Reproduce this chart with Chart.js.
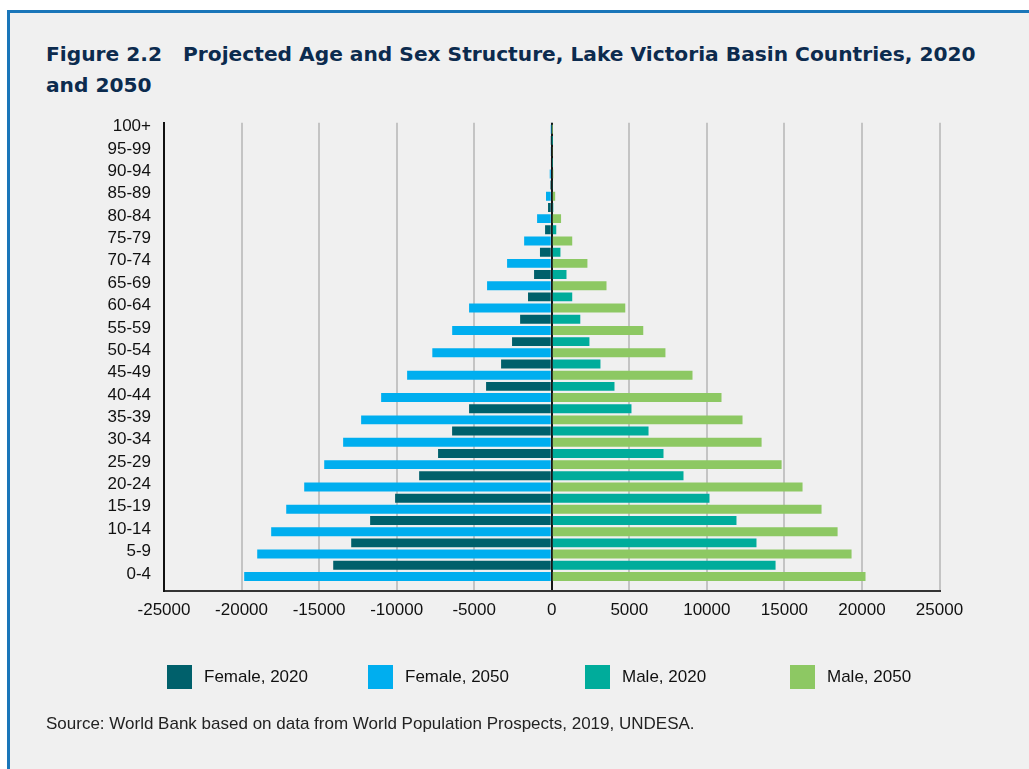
<!DOCTYPE html>
<html>
<head>
<meta charset="utf-8">
<script src="https://cdn.jsdelivr.net/npm/chart.js@4/dist/chart.umd.min.js"></script>
<style>
  html, body { margin: 0; padding: 0; background: #fff; overflow: hidden; }
  .frame { position: absolute; left: 7px; top: 10px; width: 1040px; height: 780px;
           border-top: 3px solid #1a76b9; border-left: 3px solid #1a76b9; background: #f0f0f0; }
  #chart { position: absolute; left: 0; top: 0; }
  #title { position: absolute; left: 46px; top: 39.2px; margin: 0; white-space: pre;
           font: bold 20.2px/30.8px "DejaVu Sans", sans-serif; color: #0c2b4e; }
</style>
</head>
<body>
<div class="frame"></div>
<div id="title"></div>
<canvas id="chart" width="1029" height="769"></canvas>
<script>
// age groups, bottom to top
const ages = ['0-4','5-9','10-14','15-19','20-24','25-29','30-34','35-39','40-44','45-49',
  '50-54','55-59','60-64','65-69','70-74','75-79','80-84','85-89','90-94','95-99','100+'];

// population (thousands), females drawn to the left
const female2020 = [14090,12930,11710,10100,8550,7330,6425,5330,4234,3267,2560,2040,1530,1140,760,430,240,100,60,20,10];
const female2050 = [19830,18990,18090,17120,15960,14670,13450,12290,11000,9325,7700,6420,5330,4170,2880,1780,945,370,130,50,20];
const male2020 = [14430,13200,11910,10170,8495,7205,6240,5140,4045,3140,2430,1840,1320,950,560,290,100,50,30,20,5];
const male2050 = [20230,19330,18430,17395,16170,14820,13530,12300,10945,9075,7330,5900,4740,3530,2300,1320,600,220,100,50,20];

const xTicks = [-25000,-20000,-15000,-10000,-5000,0,5000,10000,15000,20000,25000];

const title = ['Figure 2.2   Projected Age and Sex Structure, Lake Victoria Basin Countries, 2020', 'and 2050'];
const source = 'Source: World Bank based on data from World Population Prospects, 2019, UNDESA.';

const labelFont = '"Liberation Sans", Arial, sans-serif';

// title as page text (too wide for the chart's own title box)
document.getElementById('title').textContent = title.join('\n');

function pts(vals, sign) {
  return vals.map((v, i) => ({ x: sign * v, y: i }));
}

// legend drawn in fixed columns like the original
const legendX = [167, 368, 585, 790];
const boxLegend = {
  id: 'boxLegend',
  afterDraw(chart) {
    const ctx = chart.ctx;
    ctx.save();
    ctx.font = '17px ' + labelFont;
    ctx.textBaseline = 'middle';
    chart.data.datasets.forEach((ds, i) => {
      ctx.fillStyle = ds.backgroundColor;
      ctx.fillRect(legendX[i], 665, 25, 24);
      ctx.fillStyle = '#111';
      ctx.fillText(ds.label, legendX[i] + 37, 677);
    });
    ctx.restore();
  }
};

new Chart(document.getElementById('chart'), {
  type: 'bar',
  data: {
    datasets: [
      { label: 'Female, 2020', data: pts(female2020, -1), stack: 's2020', backgroundColor: '#00606b' },
      { label: 'Female, 2050', data: pts(female2050, -1), stack: 's2050', backgroundColor: '#00aeef' },
      { label: 'Male, 2020', data: pts(male2020, 1), stack: 's2020', backgroundColor: '#00ac9b' },
      { label: 'Male, 2050', data: pts(male2050, 1), stack: 's2050', backgroundColor: '#8dc863' }
    ]
  },
  options: {
    indexAxis: 'y',
    responsive: false,
    animation: false,
    devicePixelRatio: 1,
    categoryPercentage: 1,
    barPercentage: 0.8,
    borderWidth: 0,
    layout: { padding: { left: 46, right: 89.5, top: 122.7, bottom: 0 } },
    scales: {
      x: {
        type: 'linear', min: -25000, max: 25000, stacked: true,
        afterBuildTicks: s => { s.ticks = xTicks.map(v => ({ value: v })); },
        ticks: { callback: v => String(v), font: { size: 17, family: labelFont }, color: '#111', padding: 9, maxRotation: 0 },
        grid: {
          drawTicks: false, lineWidth: 2,
          color: c => (c.tick && (c.tick.value === 0 || c.tick.value === -25000)) ? '#161616' : '#c4c4c4'
        },
        border: { color: '#333', width: 2 },
        afterFit: s => { s.height = 30; }
      },
      y: {
        type: 'linear', min: -0.915, max: 20.04, bounds: 'data', offset: false,
        afterBuildTicks: s => { s.ticks = ages.map((a, i) => ({ value: i })); },
        ticks: {
          autoSkip: false, labelOffset: 3, padding: 13, color: '#111',
          font: { size: 17, family: labelFont },
          callback: (v, i) => ages[i]
        },
        grid: { drawOnChartArea: false, drawTicks: false, offset: false },
        border: { color: '#111', width: 2 },
        afterFit: s => { s.width = 118; }
      }
    },
    plugins: {
      legend: { display: false },
      tooltip: { enabled: false },
      subtitle: {
        display: true, text: source, position: 'bottom', align: 'start', color: '#222',
        font: { family: labelFont, size: 17 },
        padding: { top: 92.6, bottom: 34.7 }
      }
    }
  },
  plugins: [boxLegend]
});
</script>
</body>
</html>
